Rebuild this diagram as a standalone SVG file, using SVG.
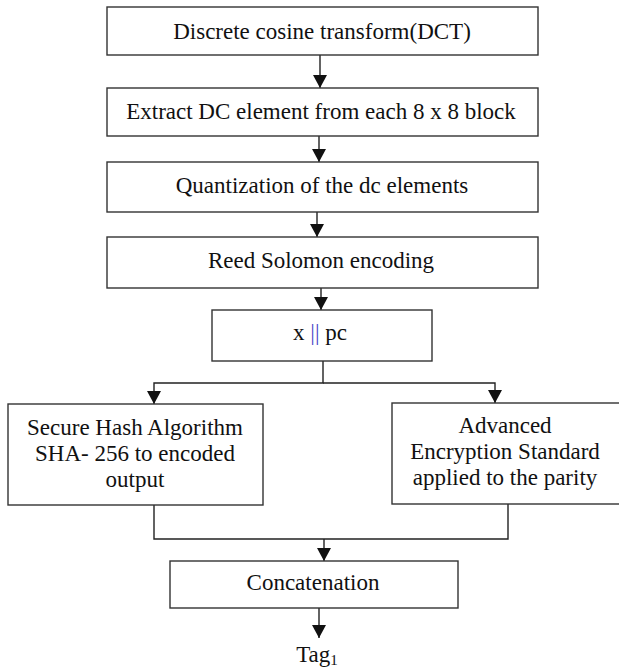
<svg xmlns="http://www.w3.org/2000/svg" width="619" height="671" viewBox="0 0 619 671">
<defs>
<marker id="ah" markerWidth="14" markerHeight="14" refX="13" refY="7" orient="auto" markerUnits="userSpaceOnUse">
<path d="M0,0 L13,7 L0,14 Z" fill="#111"/>
</marker>
<style>
.box{fill:#fff;stroke:#333;stroke-width:1.4}
.t{font-family:"Liberation Serif","Times New Roman",serif;font-size:23px;fill:#111;text-anchor:middle}
.c{fill:none;stroke:#222;stroke-width:1.4}
</style>
</defs>
<rect width="619" height="671" fill="#fff"/>
<g id="connectors">
<line class="c" x1="320" y1="55" x2="320" y2="88" marker-end="url(#ah)"/>
<line class="c" x1="319" y1="136" x2="319" y2="162" marker-end="url(#ah)"/>
<line class="c" x1="317" y1="212" x2="317" y2="237" marker-end="url(#ah)"/>
<line class="c" x1="321" y1="288" x2="321" y2="310" marker-end="url(#ah)"/>
<polyline class="c" points="323,361 323,383 154,383 154,404" marker-end="url(#ah)"/>
<polyline class="c" points="323,383 495,383 495,403" marker-end="url(#ah)"/>
<polyline class="c" points="154,505 154,539 508,539 508,504"/>
<line class="c" x1="324" y1="539" x2="324" y2="561" marker-end="url(#ah)"/>
<line class="c" x1="319" y1="608" x2="319" y2="638" marker-end="url(#ah)"/>
</g>
<g id="n1"><rect class="box" x="107" y="7" width="431" height="48"/><text class="t" x="322" y="39">Discrete cosine transform(DCT)</text></g>
<g id="n2"><rect class="box" x="107" y="88" width="431" height="48"/><text class="t" x="321" y="119">Extract DC element from each 8 x 8 block</text></g>
<g id="n3"><rect class="box" x="107" y="162" width="431" height="50"/><text class="t" x="322" y="193">Quantization of the dc elements</text></g>
<g id="n4"><rect class="box" x="107" y="237" width="431" height="51"/><text class="t" x="321" y="268">Reed Solomon encoding</text></g>
<g id="n5"><rect class="box" x="212" y="310" width="220" height="51"/><text class="t" x="320" y="340">x <tspan fill="#4848c8">||</tspan> pc</text></g>
<g id="n6"><rect class="box" x="8" y="404" width="255" height="101"/>
<text class="t" x="135" y="435">Secure Hash Algorithm</text>
<text class="t" x="135" y="461">SHA- 256 to encoded</text>
<text class="t" x="135" y="487">output</text></g>
<g id="n7"><rect class="box" x="392" y="403" width="232" height="101"/>
<text class="t" x="505" y="433">Advanced</text>
<text class="t" x="505" y="459">Encryption Standard</text>
<text class="t" x="505" y="485">applied to the parity</text></g>
<g id="n8"><rect class="box" x="170" y="561" width="288" height="47"/><text class="t" x="313" y="590">Concatenation</text></g>
<g id="n9"><text class="t" x="317" y="662">Tag<tspan font-size="15" dy="3">1</tspan></text></g>
</svg>
